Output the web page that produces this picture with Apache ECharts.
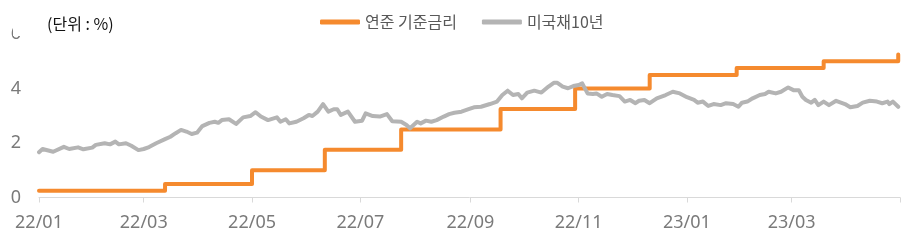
<!DOCTYPE html>
<html>
<head>
<meta charset="utf-8">
<script src="https://cdn.jsdelivr.net/npm/echarts@6/dist/echarts.min.js"></script>
<style>
html,body{margin:0;padding:0;background:#fff;}
#chart{width:909px;height:248px;}
</style>
</head>
<body>
<div id="chart"></div>
<script>
// ---- data ----
const fedDates = ['2022-01-01','2022-03-13','2022-05-01','2022-06-11','2022-07-24','2022-09-18','2022-10-30','2022-12-11','2023-01-29','2023-03-19','2023-04-30'];
const fedValues = [0.25,0.5,1.0,1.75,2.5,3.25,4.0,4.5,4.75,5.0,5.25];

const ustDates = [
'2022-01-01','2022-01-03','2022-01-09','2022-01-15','2022-01-18','2022-01-23','2022-01-26','2022-01-31',
'2022-02-02','2022-02-07','2022-02-10','2022-02-13','2022-02-15','2022-02-19','2022-02-22','2022-02-26',
'2022-03-01','2022-03-02','2022-03-04','2022-03-08','2022-03-13','2022-03-16','2022-03-19','2022-03-22','2022-03-25','2022-03-28','2022-03-31',
'2022-04-03','2022-04-07','2022-04-10','2022-04-12','2022-04-14','2022-04-18','2022-04-22','2022-04-26','2022-04-30',
'2022-05-03','2022-05-06','2022-05-10','2022-05-15','2022-05-17','2022-05-20','2022-05-22','2022-05-26','2022-05-30',
'2022-06-02','2022-06-04','2022-06-07','2022-06-10','2022-06-13','2022-06-16','2022-06-18','2022-06-20','2022-06-24','2022-06-28',
'2022-07-02','2022-07-04','2022-07-08','2022-07-12','2022-07-16','2022-07-19','2022-07-20','2022-07-24','2022-07-27','2022-07-29','2022-07-31',
'2022-08-02','2022-08-04','2022-08-07','2022-08-10','2022-08-13','2022-08-17','2022-08-20','2022-08-23','2022-08-27','2022-08-31',
'2022-09-03','2022-09-07','2022-09-12','2022-09-16','2022-09-19','2022-09-22','2022-09-25','2022-09-28','2022-09-30',
'2022-10-03','2022-10-07','2022-10-11','2022-10-15','2022-10-18','2022-10-20','2022-10-23','2022-10-26','2022-10-29',
'2022-11-01','2022-11-03','2022-11-06','2022-11-09','2022-11-11','2022-11-14','2022-11-17','2022-11-20','2022-11-24','2022-11-27','2022-11-30',
'2022-12-03','2022-12-05','2022-12-08','2022-12-11','2022-12-15','2022-12-20','2022-12-24','2022-12-28',
'2023-01-01','2023-01-05','2023-01-07','2023-01-10','2023-01-13','2023-01-16','2023-01-20','2023-01-23','2023-01-27','2023-01-30',
'2023-02-01','2023-02-04','2023-02-07','2023-02-11','2023-02-14','2023-02-16','2023-02-20','2023-02-23','2023-02-27',
'2023-03-02','2023-03-05','2023-03-07','2023-03-09','2023-03-12','2023-03-14','2023-03-16','2023-03-19','2023-03-22','2023-03-26','2023-03-31',
'2023-04-03','2023-04-07','2023-04-10','2023-04-14','2023-04-18','2023-04-21','2023-04-24','2023-04-25','2023-04-27','2023-04-30'
];
const ustValues = [
1.66,1.78,1.68,1.86,1.78,1.84,1.77,1.83,
1.93,1.99,1.95,2.05,1.95,1.99,1.90,1.74,
1.78,1.72,1.85,1.99,2.14,2.23,2.36,2.48,2.42,2.33,2.38,
2.62,2.74,2.78,2.74,2.84,2.87,2.70,2.94,2.99,
3.13,2.97,2.84,2.94,2.78,2.87,2.72,2.78,2.91,
3.03,2.99,3.15,3.43,3.15,3.24,3.24,3.03,3.15,2.78,
2.82,3.09,2.99,2.97,3.06,2.80,2.78,2.78,2.66,2.54,2.66,
2.78,2.72,2.82,2.78,2.84,2.97,3.06,3.11,3.15,3.24,
3.31,3.33,3.43,3.52,3.76,3.92,3.76,3.80,3.64,
3.85,3.92,3.85,4.07,4.21,4.21,4.07,4.01,4.09,
4.13,4.19,3.82,3.80,3.82,3.70,3.80,3.76,3.72,3.52,3.58,
3.46,3.55,3.58,3.46,3.64,3.76,3.88,3.82,
3.68,3.58,3.48,3.52,3.36,3.43,3.39,3.46,3.43,3.33,
3.48,3.52,3.64,3.76,3.80,3.88,3.82,3.88,4.04,
3.94,3.94,3.70,3.58,3.48,3.58,3.39,3.52,3.39,3.55,3.43,
3.31,3.36,3.48,3.55,3.52,3.46,3.52,3.43,3.52,3.33
];

const tickDates = ['2022-01-01','2022-03-01','2022-05-01','2022-07-01','2022-09-01','2022-11-01','2023-01-01','2023-03-01','2023-05-01'];
const labelDates = ['2022-01-01','2022-03-01','2022-05-01','2022-07-01','2022-09-01','2022-11-01','2023-01-01','2023-03-01'];
const tickLabels = ['22/01','22/03','22/05','22/07','22/09','22/11','23/01','23/03'];
const yTicks = [0,2,4,6];
const seriesNames = ['연준 기준금리','미국채10년'];
const unitText = '(단위 : %)';

// ---- helpers ----
function ts(s){const p=s.split('-').map(Number);return Date.UTC(p[0],p[1]-1,p[2]);}
const labelMap = {};
labelDates.forEach((d,i)=>{labelMap[ts(d)] = tickLabels[i];});

const chart = echarts.init(document.getElementById('chart'), null, {renderer:'canvas'});
const axisFont = {fontFamily:'Noto Sans', fontSize:18, color:'#7a7a7a'};
chart.setOption({
  animation:false,
  backgroundColor:'#fff',
  title:{
    text:unitText, left:13, top:12,
    padding:[4,4,4,34], backgroundColor:'#fff',
    textStyle:{fontFamily:'Noto Sans CJK KR', fontSize:16, fontWeight:'normal', color:'#111'}
  },
  legend:{
    left:315, top:9, itemWidth:40, itemHeight:5, itemGap:25, icon:'roundRect',
    textStyle:{fontFamily:'Noto Sans CJK KR', fontSize:16, color:'#595959'},
    data:seriesNames
  },
  grid:{left:39, right:9, top:34, bottom:50.5, containLabel:false},
  xAxis:{
    type:'value',
    min:ts(tickDates[0]), max:ts(tickDates[tickDates.length-1]),
    axisLine:{show:true, lineStyle:{color:'#d9d9d9', width:1}},
    axisTick:{show:true, length:5, lineStyle:{color:'#d9d9d9'}, customValues:tickDates.map(ts)},
    axisLabel:{show:true, margin:16, customValues:labelDates.map(ts), hideOverlap:false,
      formatter:function(v){return labelMap[v] !== undefined ? labelMap[v] : '';}, ...axisFont},
    splitLine:{show:false}
  },
  yAxis:{
    type:'value', min:yTicks[0], max:yTicks[yTicks.length-1], interval:2,
    axisLine:{show:false}, axisTick:{show:false}, splitLine:{show:false},
    axisLabel:{margin:18, ...axisFont}
  },
  series:[
    {
      name:seriesNames[0], type:'line', step:'end', showSymbol:false, symbol:'none',
      lineStyle:{color:'#f58a2e', width:4, cap:'round', join:'round'}, itemStyle:{color:'#f58a2e'},
      data:fedDates.map((d,i)=>[ts(d), fedValues[i]])
    },
    {
      name:seriesNames[1], type:'line', showSymbol:false, symbol:'none',
      lineStyle:{color:'#b4b4b4', width:4, cap:'round', join:'round'}, itemStyle:{color:'#b4b4b4'},
      data:ustDates.map((d,i)=>[ts(d), ustValues[i]])
    }
  ]
});
</script>
</body>
</html>
